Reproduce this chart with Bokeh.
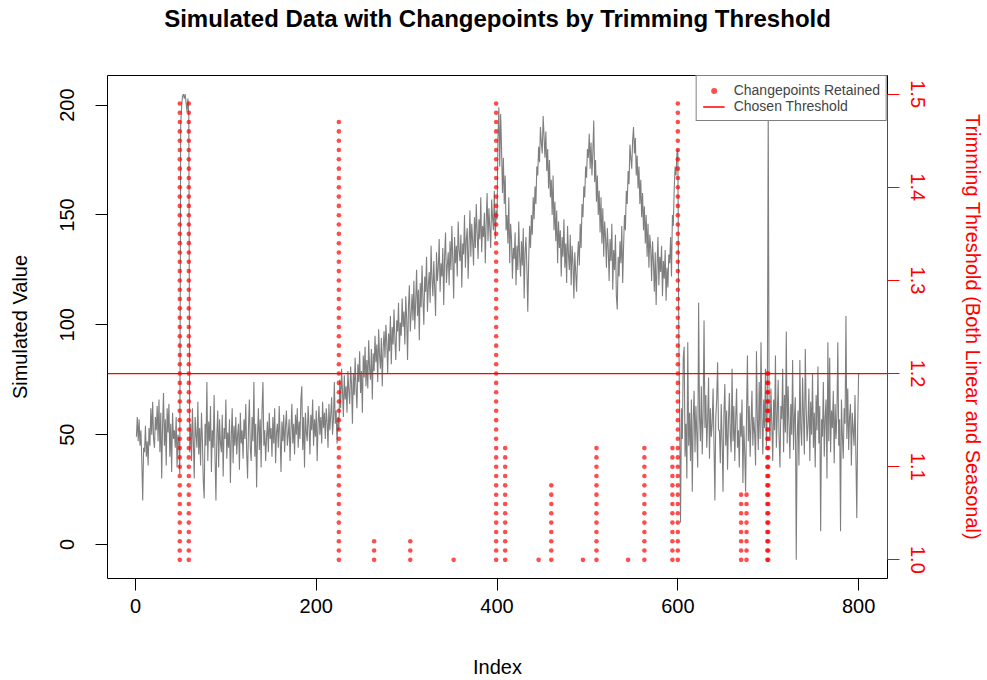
import numpy as np
from bokeh.plotting import figure
from bokeh.models import (Range1d, LinearAxis, FixedTicker, PrintfTickFormatter,
                          Legend, LegendItem, Title)
from bokeh.embed import file_html
from bokeh.resources import INLINE

FONT = "Liberation Sans"

# ---- simulated series, by regime -------------------------------------------
seg_flat_start = [49, 58, 47, 57, 45, 52, 38, 20, 44, 42,
                  54, 40, 47, 36, 53, 45, 62, 50, 65, 48,
                  44, 58, 52, 63, 47, 66, 42, 60, 30, 55,
                  69, 45, 57, 36, 62, 51, 64, 40, 55, 33,
                  60, 48, 52, 44, 58, 35, 50, 47]
seg_spike = [32, 191, 199, 204, 205, 203, 205, 201, 197, 203, 195]
seg_flat_mid = [42, 55, 38, 62, 47, 30, 58, 50, 44, 65,
                41, 53, 36, 60, 48, 29, 21, 55, 45, 74,
                38, 56, 47, 63, 33, 52, 44, 68, 40, 20,
                50, 61, 35, 57, 46, 42, 59, 31, 53, 48,
                66, 39, 51, 44, 57, 28, 49, 62, 37, 54,
                45, 58, 41, 50, 55, 34, 60, 46, 52, 39,
                57, 48, 64, 42, 30, 53, 66, 44, 38, 58,
                47, 74, 40, 55, 26, 50, 62, 43, 57, 35,
                61, 74, 45, 52, 38, 49, 56, 42, 60, 48,
                53, 40, 58, 46, 62, 37, 51, 55, 44, 63,
                49, 33, 56, 47, 59, 42, 54, 61, 45, 50,
                57, 38, 52, 64, 46, 55, 41, 59, 50, 62,
                44, 56, 48, 66, 72, 43, 58, 35, 60, 51,
                47, 63, 54, 41, 59, 52, 66, 45, 57, 49,
                61, 38, 55, 63, 50, 58, 46, 65, 53, 60,
                48, 62, 56, 44, 64, 52, 59, 67, 50, 57,
                74, 55, 61, 46, 58, 52]
seg_trend = [75, 62, 80, 70, 58, 77, 66, 72, 60, 79,
             70, 64, 81, 73, 55, 78, 68, 85, 71, 62,
             82, 74, 88, 69, 79, 60, 86, 76, 90, 72,
             84, 71, 93, 80, 75, 89, 66, 87, 79, 95,
             83, 91, 74, 98, 86, 80, 94, 72, 89, 97,
             85, 100, 92, 78, 96, 88, 104, 82, 99, 91,
             107, 93, 84, 102, 97, 110, 88, 101, 95, 112,
             99, 106, 91, 113, 103, 84, 108, 118, 97, 105,
             114, 102, 120, 98, 111, 125, 104, 116, 93, 119,
             108, 127, 112, 100, 122, 115, 131, 106, 118, 124,
             110, 136, 121, 113, 129, 117, 104, 133, 120, 126,
             139, 115, 128, 122, 135, 109, 131, 142, 119, 127,
             133, 118, 138, 125, 145, 130, 112, 140, 128, 136,
             122, 147, 134, 129, 141, 117, 137, 132, 150, 126,
             139, 144, 121, 136, 152, 131, 146, 138, 127, 149,
             135, 155, 142, 130, 148, 139, 158, 133, 145, 140,
             151, 128, 147, 160, 138, 153, 144, 135, 157, 149,
             143, 161, 139, 152, 148]
seg_seasonal = [185, 199, 172, 196, 180, 160, 176, 155, 168, 143,
                150, 137, 158, 128, 146, 139, 121, 135, 130, 142,
                118, 136, 125, 147, 131, 122, 138, 127, 144, 112,
                133, 140, 126, 106, 129, 145, 135, 150, 141, 158,
                148, 163, 155, 172, 168, 181, 174, 190, 183, 178,
                195, 186, 176, 188, 170, 180, 162, 175, 158, 166,
                150, 168, 143, 156, 138, 152, 128, 147, 135, 143,
                122, 140, 131, 148, 126, 137, 119, 145, 132, 125,
                141, 118, 136, 128, 112, 133, 124, 115, 130, 138,
                127, 146, 135, 155, 149, 163, 158, 172, 167, 180,
                176, 187, 171, 183, 168, 179, 193, 165, 175, 156,
                168, 150, 161, 142, 158, 137, 153, 131, 147, 140,
                126, 144, 135, 120, 139, 129, 146, 116, 134, 125,
                141, 113, 107, 131, 122, 138, 128, 145, 119, 136,
                150, 143, 161, 155, 170, 164, 182, 176, 171, 184,
                190, 178, 185, 168, 177, 162, 172, 155, 166, 149,
                160, 143, 154, 137, 150, 131, 146, 126, 141, 135,
                120, 138, 129, 115, 133, 109, 127, 140, 118, 131,
                124, 136, 113, 129, 121, 134, 111, 126, 117, 132,
                128, 140, 122, 150, 145, 162, 172, 168, 178, 180]
seg_flat_end = [100, 58, 10, 62, 48, 85, 90, 40, 55, 30,
                92, 45, 60, 38, 66, 24, 57, 70, 42, 63,
                50, 35, 110, 58, 47, 72, 41, 61, 102, 53,
                68, 44, 57, 76, 39, 62, 49, 55, 71, 46,
                20, 58, 66, 83, 52, 52, 37, 64, 48, 24,
                59, 73, 45, 61, 34, 56, 69, 50, 42, 80,
                47, 63, 38, 57, 71, 44, 52, 35, 60, 49,
                66, 28, 54, 42, 24, 59, 86, 47, 63, 40,
                55, 70, 45, 58, 51, 36, 88, 57, 43, 74,
                48, 92, 58, 41, 66, 53, 80, 45, 62, 200,
                60, 47, 71, 54, 38, 66, 52, 86, 44, 59,
                75, 49, 35, 63, 57, 80, 42, 68, 51, 97,
                46, 72, 55, 39, 64, 50, 84, 43, 58, 67,
                -7, 48, 61, 36, 84, 53, 45, 76, 58, 41,
                89, 62, 47, 55, 71, 38, 65, 50, 78, 44,
                60, 35, 68, 52, 81, 46, 63, 6, 57, 49,
                74, 40, 58, 66, 30, 92, 47, 85, 42, 61,
                53, 70, 37, 64, 48, 59, 92, 45, 57, 6,
                66, 50, 39, 62, 55, 104, 48, 71, 43, 58,
                64, 36, 60, 52, 45, 68, 40, 12, 55, 78]

series = (seg_flat_start + seg_spike + seg_flat_mid + seg_trend
          + seg_seasonal + seg_flat_end)
index = list(range(1, len(series) + 1))

# ---- changepoints and the largest trimming threshold that keeps each -------
cp_index = [49, 59, 225, 264, 304, 352, 399, 409, 446, 460,
            495, 510, 545, 563, 594, 600, 670, 676, 699, 700]
cp_max_threshold = [1.49, 1.49, 1.47, 1.02, 1.02, 1.00, 1.49, 1.12, 1.00, 1.08,
                    1.00, 1.12, 1.00, 1.12, 1.12, 1.49, 1.07, 1.07, 1.20, 1.20]
thresholds = [round(1.00 + 0.01 * k, 2) for k in range(51)]
chosen_threshold = 1.2

x_ticks = [0, 200, 400, 600, 800]
y_ticks = [0, 50, 100, 150, 200]
thr_ticks = [1.0, 1.1, 1.2, 1.3, 1.4, 1.5]

# points (changepoint, threshold) for every threshold at which it is retained
pt_x, pt_t = [], []
for cp, tmax in zip(cp_index, cp_max_threshold):
    for t in thresholds:
        if t <= tmax + 1e-9:
            pt_x.append(cp)
            pt_t.append(t)


def padded(lo, hi, frac=0.04):
    d = (hi - lo) * frac
    return lo - d, hi + d


x0, x1 = padded(min(index), max(index))
y0, y1 = padded(min(series), max(series))
t0, t1 = padded(min(thresholds), max(thresholds))

p = figure(width=987, height=680, output_backend="svg", toolbar_location=None,
           x_range=Range1d(x0, x1), y_range=Range1d(y0, y1),
           min_border_left=107, min_border_right=100,
           min_border_top=75, min_border_bottom=100)
p.extra_y_ranges = {"thr": Range1d(t0, t1)}
p.background_fill_color = "white"
p.border_fill_color = "white"
p.outline_line_color = "black"
p.outline_line_width = 1
p.xgrid.visible = False
p.ygrid.visible = False

# blank band next to the frame, then the main title above it
p.add_layout(Title(text=" ", text_font=FONT, text_font_size="38px", standoff=0), "above")
p.add_layout(Title(text="Simulated Data with Changepoints by Trimming Threshold",
                   align="center", text_font=FONT, text_font_size="24px",
                   text_font_style="bold", text_color="black", standoff=0), "above")

for ax, ticks in ((p.xaxis[0], x_ticks), (p.yaxis[0], y_ticks)):
    ax.ticker = FixedTicker(ticks=ticks)
    ax.axis_line_color = None
    ax.major_tick_out = 12
    ax.major_tick_in = 0
    ax.major_tick_line_color = "black"
    ax.minor_tick_line_color = None
    ax.major_label_text_font = FONT
    ax.major_label_text_font_size = "20px"
    ax.major_label_text_color = "black"
    ax.axis_label_text_font = FONT
    ax.axis_label_text_font_size = "20px"
    ax.axis_label_text_font_style = "normal"
    ax.axis_label_text_color = "black"
p.xaxis[0].major_label_standoff = 8
p.xaxis[0].axis_label = "Index"
p.xaxis[0].axis_label_standoff = 40
p.yaxis[0].major_label_orientation = "vertical"
p.yaxis[0].major_label_standoff = 21
p.yaxis[0].axis_label = "Simulated Value"
p.yaxis[0].axis_label_standoff = 27

raxis = LinearAxis(y_range_name="thr", ticker=FixedTicker(ticks=thr_ticks),
                   formatter=PrintfTickFormatter(format="%.1f"), bounds=(1.0, 1.5))
raxis.axis_line_color = "red"
raxis.axis_line_width = 1
raxis.major_tick_line_color = "red"
raxis.major_tick_out = 12
raxis.major_tick_in = 0
raxis.minor_tick_line_color = None
raxis.major_label_text_color = "red"
raxis.major_label_text_font = FONT
raxis.major_label_text_font_size = "20px"
raxis.major_label_orientation = "vertical"
raxis.major_label_standoff = 11
raxis.axis_label = "Trimming Threshold (Both Linear and Seasonal)"
raxis.axis_label_text_font = FONT
raxis.axis_label_text_font_size = "20px"
raxis.axis_label_text_font_style = "normal"
raxis.axis_label_text_color = "red"
raxis.axis_label_standoff = 34
# read the right-hand title upward, like the left one
if "axis_label_orientation" in raxis.properties():
    raxis.axis_label_orientation = "vertical"
p.add_layout(raxis, "right")

# simulated series
p.line(index, series, line_color="#7f7f7f", line_width=1.1)

# retained changepoints on the threshold scale
pts = p.scatter(pt_x, pt_t, y_range_name="thr", size=4.6, marker="circle",
                fill_color="red", line_color=None, fill_alpha=0.7)

# chosen threshold across the full index range
thr_line = p.line([x0, x1], [chosen_threshold, chosen_threshold], y_range_name="thr",
                  line_color="red", line_width=1.3)

legend = Legend(items=[LegendItem(label="Changepoints Retained", renderers=[pts]),
                       LegendItem(label="Chosen Threshold", renderers=[thr_line])],
                location="top_right", margin=0, padding=6, spacing=0,
                glyph_width=22, glyph_height=15, label_height=15,
                label_standoff=9, border_line_color="black", border_line_width=1,
                background_fill_color="white", background_fill_alpha=1,
                label_text_font=FONT, label_text_font_size="14px")
p.add_layout(legend)

open("out.html", "w").write(file_html(p, INLINE))
